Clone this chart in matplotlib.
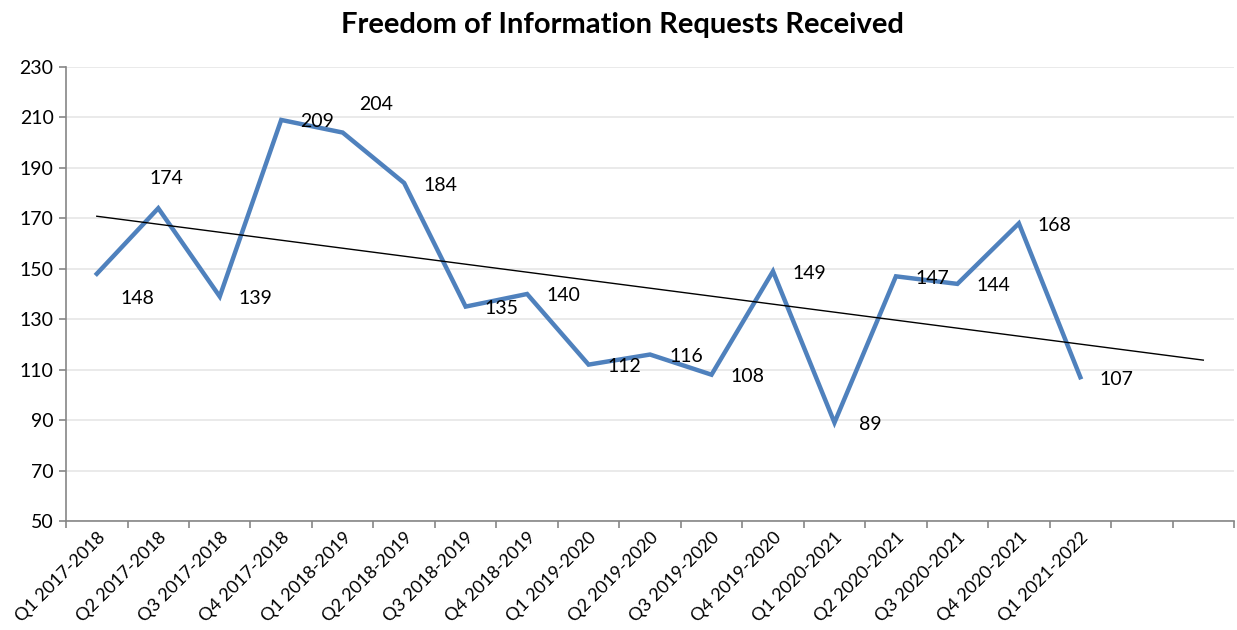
import numpy as np
import matplotlib
matplotlib.use("Agg")
import matplotlib.pyplot as plt
from matplotlib.ticker import FixedLocator

plt.rcParams['font.family'] = ['Lato', 'DejaVu Sans']

quarters = ["Q1 2017-2018", "Q2 2017-2018", "Q3 2017-2018", "Q4 2017-2018",
            "Q1 2018-2019", "Q2 2018-2019", "Q3 2018-2019", "Q4 2018-2019",
            "Q1 2019-2020", "Q2 2019-2020", "Q3 2019-2020", "Q4 2019-2020",
            "Q1 2020-2021", "Q2 2020-2021", "Q3 2020-2021", "Q4 2020-2021",
            "Q1 2021-2022"]
requests = [148, 174, 139, 209, 204, 184, 135, 140, 112, 116, 108, 149,
            89, 147, 144, 168, 107]
forward_periods = 2  # trendline projected two quarters ahead
y_ticks = [50, 70, 90, 110, 130, 150, 170, 190, 210, 230]

# label offsets in pixels (Excel put most labels to the right)
label_offsets = {0: (41, -25), 1: (8, 30), 4: (33, 28)}

x = np.arange(1, len(requests) + 1)
n_cats = len(requests) + forward_periods

fig = plt.figure(figsize=(12.37, 6.3), dpi=100)
ax = fig.add_axes([0.0534, 0.173, 0.9442, 0.7207])

ax.plot(x, requests, color='#4f81bd', lw=3.2, solid_joinstyle='miter', zorder=3)

# linear trendline
slope, intercept = np.polyfit(x, requests, 1)
xt = np.array([1, n_cats])
ax.plot(xt, slope * xt + intercept, color='black', lw=1.0, zorder=4)

for i, v in enumerate(requests):
    dx, dy = label_offsets.get(i, (36, -2))
    ax.annotate(str(v), (x[i], v), xytext=(dx, dy), textcoords='offset pixels',
                ha='center', va='center', fontsize=14, color='black', zorder=5)

ax.set_xlim(0.5, n_cats + 0.5)
ax.set_ylim(y_ticks[0], y_ticks[-1])
ax.set_yticks(y_ticks)
ax.grid(axis='y', color='#e6e6e6', lw=1.2)
ax.set_axisbelow(True)

ax.set_xticks(np.arange(1, n_cats + 1))
ax.set_xticklabels(quarters + [''] * forward_periods, rotation=45, ha='right',
                   rotation_mode='anchor', fontsize=13)
ax.xaxis.set_minor_locator(FixedLocator(np.arange(0.5, n_cats + 1)))
ax.tick_params(axis='x', which='major', length=0, pad=6)
ax.tick_params(axis='x', which='minor', length=5, color='#868686', width=1.2)
ax.tick_params(axis='y', length=5, color='#868686', width=1.2, labelsize=14, pad=4)

for s in ['top', 'right']:
    ax.spines[s].set_visible(False)
for s in ['left', 'bottom']:
    ax.spines[s].set_color('#868686')
    ax.spines[s].set_linewidth(1.2)

fig.text(0.5035, 0.96, "Freedom of Information Requests Received",
         ha='center', va='center', fontsize=21, fontweight='bold')

fig.savefig('out.png', dpi=100)
